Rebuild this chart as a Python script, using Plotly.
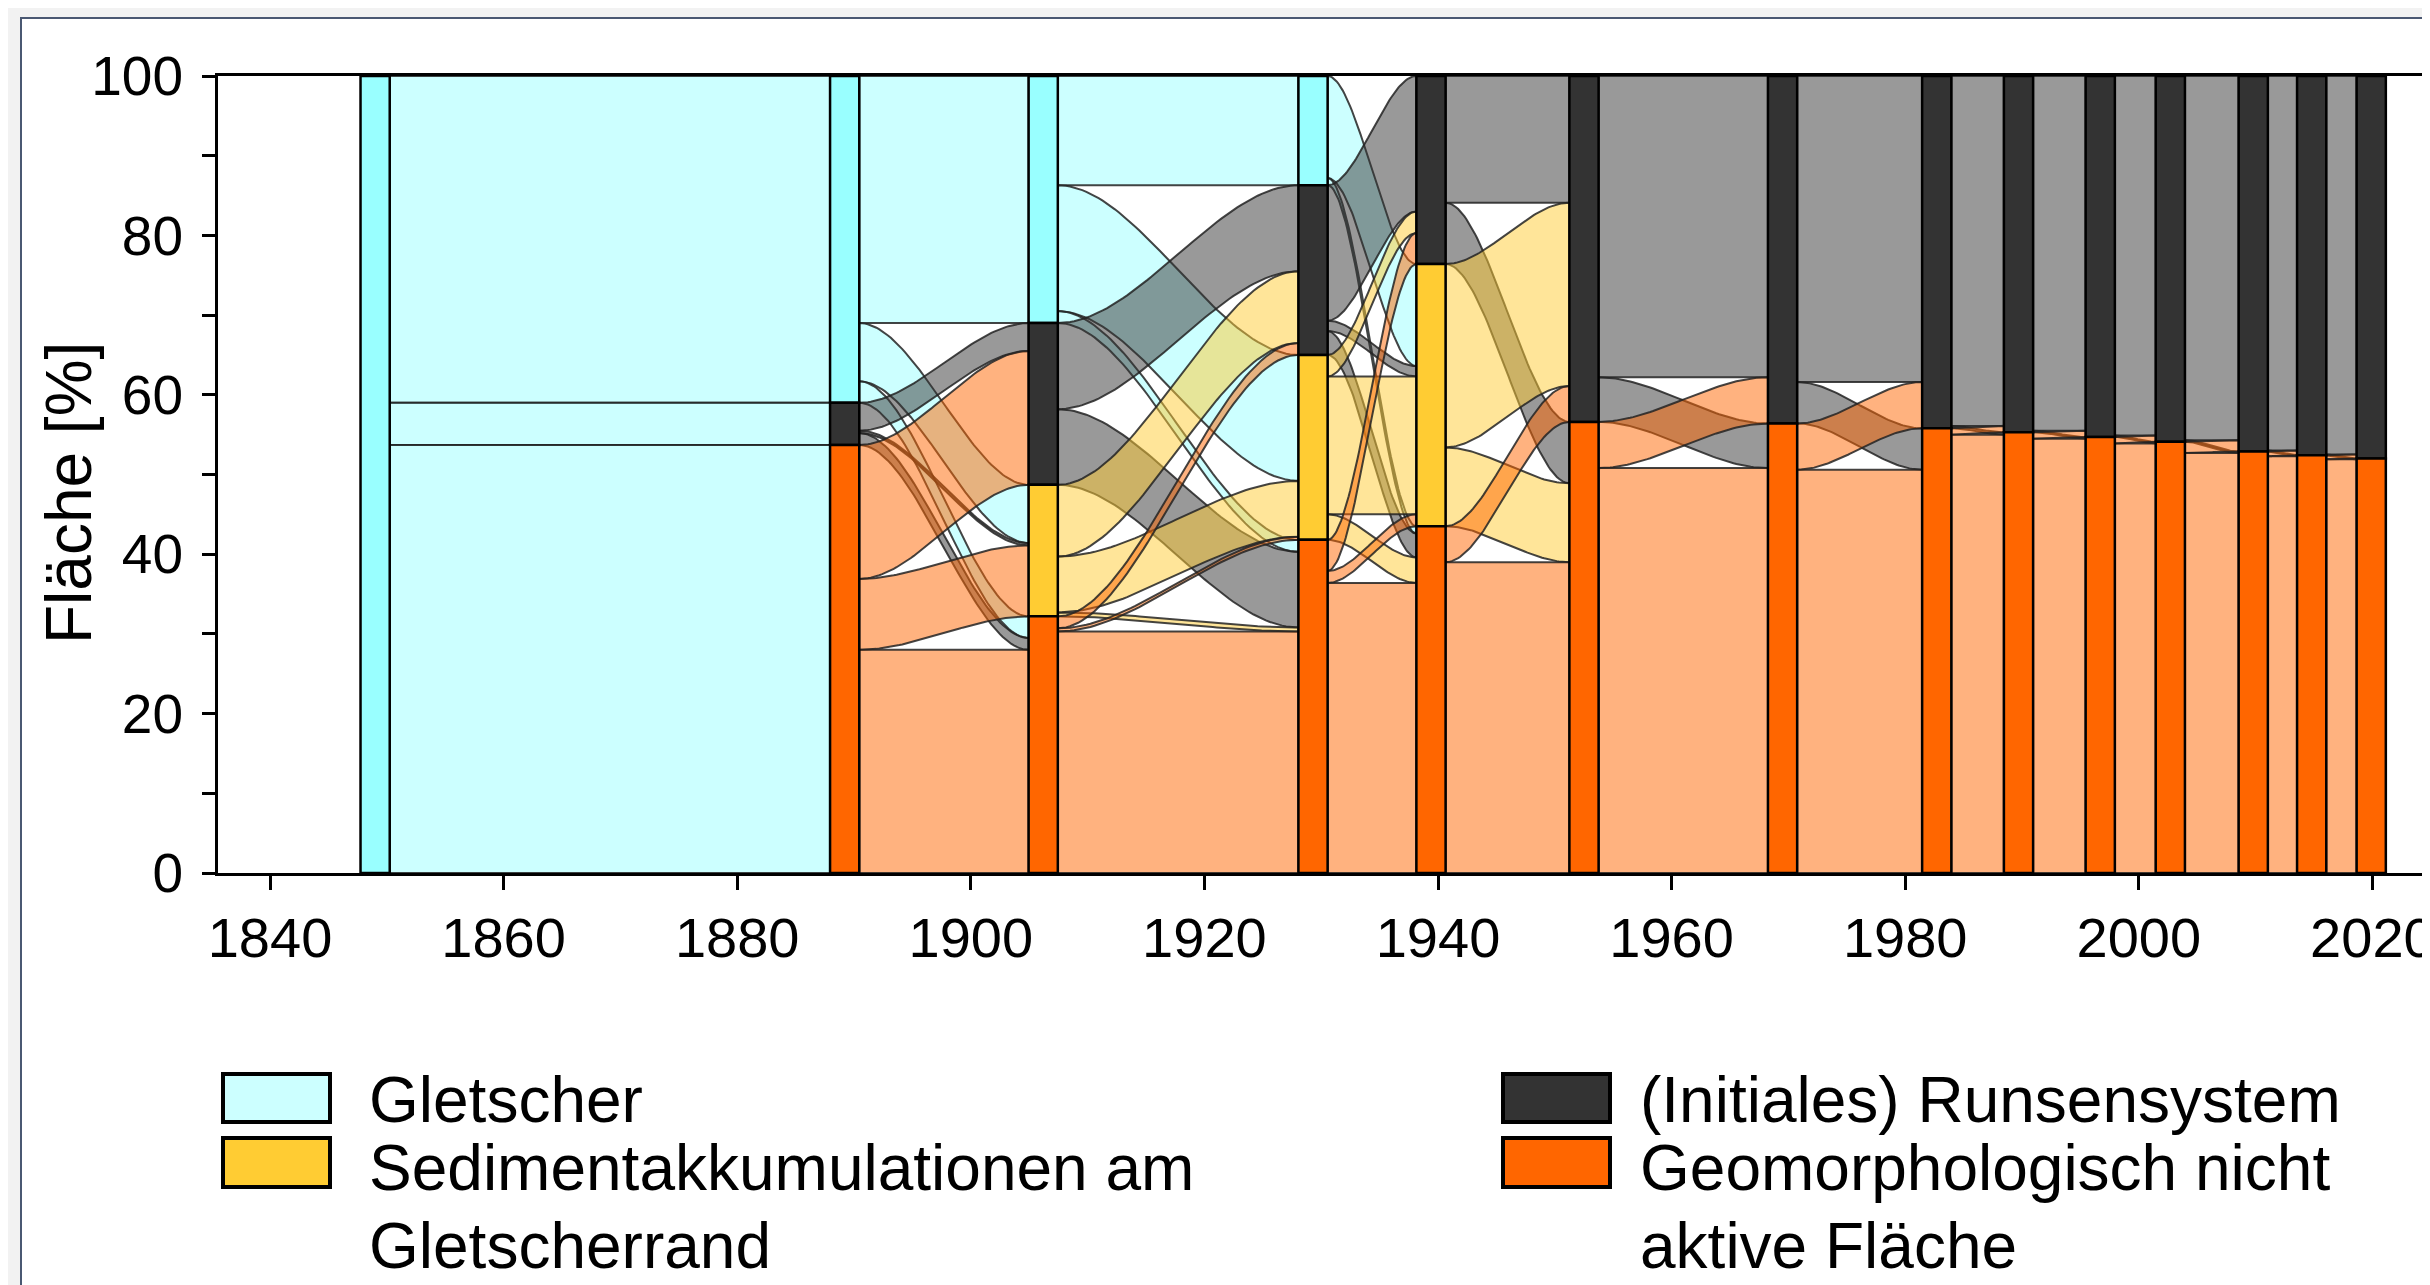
import numpy as np
import plotly.graph_objects as go

# ---------------- data ----------------
categories = ["Gletscher", "(Initiales) Runsensystem",
              "Sedimentakkumulationen am Gletscherrand",
              "Geomorphologisch nicht aktive Fläche"]
# stratum order (top -> bottom): Gletscher, Runsensystem, Sediment, Geomorph.
survey_years = [1849.0, 1889.2, 1906.2, 1929.3, 1939.4, 1952.5, 1969.5,
                1982.7, 1989.7, 1996.7, 2002.7, 2009.8, 2014.8, 2019.9]

# flow matrices in % area: rows = source class, columns = target class
flow_1849_1889 = [[41.0, 5.3, 0.0, 53.7], [0, 0, 0, 0], [0, 0, 0, 0], [0, 0, 0, 0]]
flow_1889_1906 = [[31.0, 0.0, 7.3, 2.7], [0.0, 3.5, 0.3, 1.5], [0, 0, 0, 0], [0.0, 16.8, 8.9, 28.0]]
flow_1906_1929 = [[13.7, 0.0, 15.8, 1.5], [0.0, 10.8, 0.0, 9.5], [0.0, 9.0, 7.0, 0.5], [0.0, 1.5, 0.4, 30.3]]
flow_1929_1939 = [[0.0, 0.0, 12.8, 0.9], [0.0, 17.0, 1.3, 3.0], [0.0, 2.7, 17.3, 3.2], [0.0, 3.9, 1.5, 36.4]]
flow_1939_1952 = [[0, 0, 0, 0], [0.0, 15.9, 0.0, 7.7], [0.0, 23.0, 0.0, 9.9], [0.0, 4.5, 0.0, 39.0]]
flow_1952_1969 = [[0, 0, 0, 0], [0.0, 37.8, 0.0, 5.6], [0, 0, 0, 0], [0.0, 5.8, 0.0, 50.8]]
flow_1969_1982 = [[0, 0, 0, 0], [0.0, 38.4, 0.0, 5.2], [0, 0, 0, 0], [0.0, 5.8, 0.0, 50.6]]
flow_1982_1989 = [[0, 0, 0, 0], [0.0, 43.9, 0.0, 0.3], [0, 0, 0, 0], [0.0, 0.8, 0.0, 55.0]]
flow_1989_1996 = [[0, 0, 0, 0], [0.0, 44.5, 0.0, 0.2], [0, 0, 0, 0], [0.0, 0.8, 0.0, 54.5]]
flow_1996_2002 = [[0, 0, 0, 0], [0.0, 45.1, 0.0, 0.2], [0, 0, 0, 0], [0.0, 0.8, 0.0, 53.9]]
flow_2002_2009 = [[0, 0, 0, 0], [0.0, 45.7, 0.0, 0.2], [0, 0, 0, 0], [0.0, 1.4, 0.0, 52.7]]
flow_2009_2014 = [[0, 0, 0, 0], [0.0, 47.0, 0.0, 0.1], [0, 0, 0, 0], [0.0, 0.6, 0.0, 52.3]]
flow_2014_2019 = [[0, 0, 0, 0], [0.0, 47.5, 0.0, 0.1], [0, 0, 0, 0], [0.0, 0.5, 0.0, 51.9]]

transitions = [flow_1849_1889, flow_1889_1906, flow_1906_1929, flow_1929_1939,
               flow_1939_1952, flow_1952_1969, flow_1969_1982, flow_1982_1989,
               flow_1989_1996, flow_1996_2002, flow_2002_2009, flow_2009_2014,
               flow_2014_2019]

y_ticks = [0, 10, 20, 30, 40, 50, 60, 70, 80, 90, 100]
y_ticklabels = ["0", "", "20", "", "40", "", "60", "", "80", "", "100"]
x_ticks = [1840, 1860, 1880, 1900, 1920, 1940, 1960, 1980, 2000, 2020]

# ---------------- style ----------------
bar_colors = ["#99FFFF", "#333333", "#FFCC33", "#FF6600"]
flow_colors = ["rgba(153,255,255,0.5)", "rgba(51,51,51,0.5)",
               "rgba(255,204,51,0.5)", "rgba(255,102,0,0.5)"]
legend_colors = ["#CCFFFF", "#333333", "#FFCC33", "#FF6600"]
BW = 2.5
FONT = "Liberation Sans, Arial, sans-serif"

OFF = 8  # page body margin offset
W, H = 2430, 1285
L, T, R, B = 218 - OFF, 76 - OFF, 0, 1285 - (873 - OFF)
PW, PH = W - L - R, H - T - B
x0_range = 1840 - (270 - OFF - L) / 11.68
x1_range = x0_range + PW / 11.68


def px(x):
    return (x - OFF - L) / PW


def py(y):
    return (H - B - (y - OFF)) / PH


def stack(sizes):
    tops, y = [], 100.0
    for s in sizes:
        tops.append(y)
        y -= s
    return tops


M = [np.array(m, dtype=float) for m in transitions]
node_sizes = [M[0].sum(axis=1)] + [m.sum(axis=0) for m in M]

fig = go.Figure()

# flows
tt = np.linspace(0, 1, 60)
ss = tt * tt * (3 - 2 * tt)
for k, m in enumerate(M):
    src_tops = stack(m.sum(axis=1))
    tgt_tops = stack(m.sum(axis=0))
    xa = survey_years[k] + BW / 2
    xb = survey_years[k + 1] - BW / 2
    xs = xa + (xb - xa) * tt
    src_pos = {}
    for i in range(4):
        c = 0.0
        for j in range(4):
            v = m[i, j]
            if v > 0:
                src_pos[(i, j)] = (src_tops[i] - c, src_tops[i] - c - v)
                c += v
    tgt_pos = {}
    for j in range(4):
        c = 0.0
        for i in range(4):
            v = m[i, j]
            if v > 0:
                tgt_pos[(i, j)] = (tgt_tops[j] - c, tgt_tops[j] - c - v)
                c += v
    for (i, j), (sa, sb) in src_pos.items():
        ta, tb = tgt_pos[(i, j)]
        top = sa + (ta - sa) * ss
        bot = sb + (tb - sb) * ss
        fig.add_trace(go.Scatter(
            x=np.concatenate([xs, xs[::-1], xs[:1]]),
            y=np.concatenate([top, bot[::-1], top[:1]]),
            mode="lines", fill="toself", fillcolor=flow_colors[i],
            line=dict(color="rgba(35,35,35,0.85)", width=2),
            hoverinfo="skip", showlegend=False))

# strata bars
for k, sizes in enumerate(node_sizes):
    tops = stack(sizes)
    xc = survey_years[k]
    for c in range(4):
        if sizes[c] <= 0:
            continue
        y1, y0 = tops[c], tops[c] - sizes[c]
        fig.add_trace(go.Scatter(
            x=[xc - BW / 2, xc + BW / 2, xc + BW / 2, xc - BW / 2, xc - BW / 2],
            y=[y0, y0, y1, y1, y0],
            mode="lines", fill="toself", fillcolor=bar_colors[c],
            line=dict(color="black", width=2.5),
            hoverinfo="skip", showlegend=False))

shapes = [dict(type="rect", xref="paper", yref="paper",
               x0=px(21), x1=px(2460), y0=py(1330), y1=py(18),
               fillcolor="white", line=dict(color="#4a5872", width=2),
               layer="below")]
annotations = [dict(text="Fläche [%]", xref="paper", yref="paper",
                    x=px(69), y=py(493), textangle=-90, showarrow=False,
                    xanchor="center", yanchor="middle",
                    font=dict(family=FONT, size=64, color="black"))]

# legend (two columns)
legend_cols = [(223, 367, [0, 2]), (1503, 1638, [1, 3])]
swatch_y = [(1074, 1122), (1138, 1187)]
legend_lines = {0: ["Gletscher"], 2: ["Sedimentakkumulationen am", "Gletscherrand"],
                1: ["(Initiales) Runsensystem"], 3: ["Geomorphologisch nicht", "aktive Fläche"]}
text_rows = [1100, 1168, 1246]
for sx, tx, cats in legend_cols:
    row = 0
    for r, c in enumerate(cats):
        ya, yb = swatch_y[r]
        shapes.append(dict(type="rect", xref="paper", yref="paper",
                           x0=px(sx), x1=px(sx + 107), y0=py(yb), y1=py(ya),
                           fillcolor=legend_colors[c], line=dict(color="black", width=4)))
        for line in legend_lines[c]:
            annotations.append(dict(text=line, xref="paper", yref="paper",
                                    x=px(tx), y=py(text_rows[row]), showarrow=False,
                                    xanchor="left", yanchor="middle",
                                    font=dict(family=FONT, size=64, color="black")))
            row += 1

fig.update_layout(
    width=W, height=H,
    margin=dict(l=L, r=R, t=T, b=B),
    paper_bgcolor="#f2f2f2", plot_bgcolor="rgba(0,0,0,0)",
    shapes=shapes, annotations=annotations, showlegend=False,
    font=dict(family=FONT, color="black"),
    xaxis=dict(range=[x0_range, x1_range], tickvals=x_ticks,
               ticks="outside", ticklen=14, tickwidth=3, tickcolor="black",
               showline=True, linewidth=3, linecolor="black", mirror=True,
               showgrid=False, zeroline=False, ticklabeloverflow="allow",
               tickfont=dict(family=FONT, size=56, color="black"),
               ticklabelstandoff=0),
    yaxis=dict(range=[0, 100], tickvals=y_ticks, ticktext=y_ticklabels,
               ticks="outside", ticklen=13, tickwidth=3, tickcolor="black",
               showline=True, linewidth=3, linecolor="black",
               showgrid=False, zeroline=False,
               tickfont=dict(family=FONT, size=55, color="black"),
               ticklabelstandoff=8),
)

fig.write_html("out.html")
